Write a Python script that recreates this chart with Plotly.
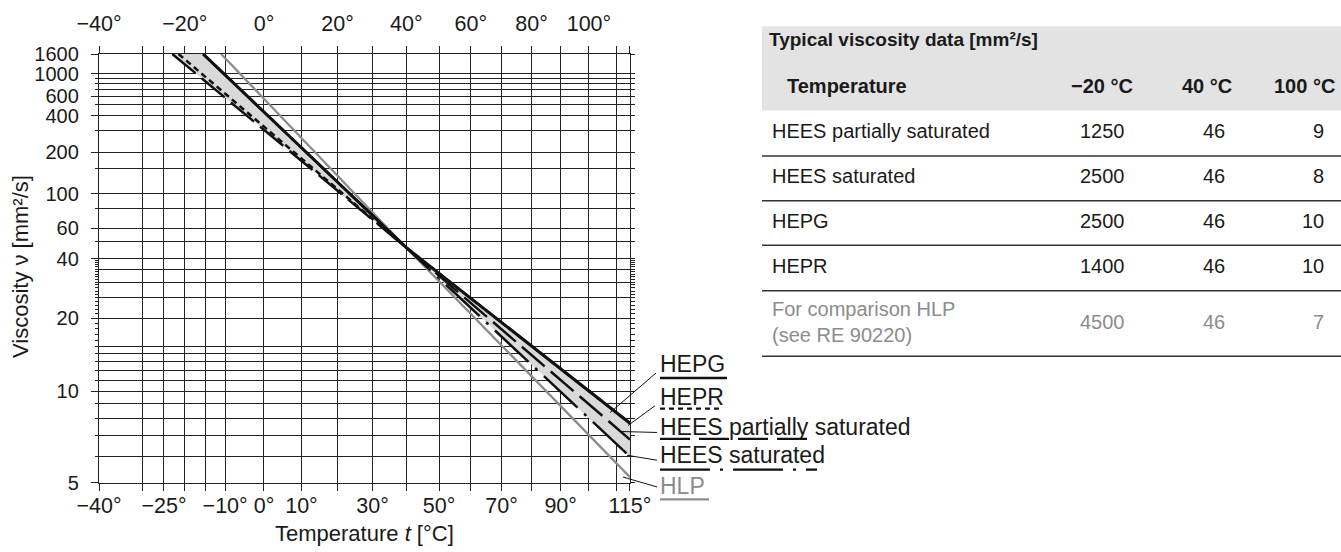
import math
import plotly.graph_objects as go

# ---------------- data ----------------
grid_temps = [-40, -30, -25, -20, -15, -10, 0, 10, 20, 30, 40, 50, 60, 70, 80, 90, 100, 110, 115]
bottom_labels = [-40, -25, -10, 0, 10, 30, 50, 70, 90, 115]
top_labels = [-40, -20, 0, 20, 40, 60, 80, 100]

visc_major = [1600, 1000, 600, 400, 200, 100, 60, 40, 20, 10, 5]
visc_minor_grid = [900, 800, 700, 500, 300, 150, 80, 50, 35, 30, 25, 15, 14, 13, 12, 11, 9, 8, 7, 6]
visc_small_ticks = [16, 17, 18, 19, 21, 22, 23, 24, 26, 27, 28, 29, 31, 32, 33, 34, 36, 37, 38, 39]

# series (temperature in degC, viscosity in mm2/s)
hees_p_t = [-23.0, 40, 115]
hees_p_v = [1600, 46, 6.8]
hees_s_t = [-15.5, 40, 115]
hees_s_v = [1600, 46, 6.0]
hepg_t = [-15.5, 40, 115]
hepg_v = [1600, 46, 7.7]
hepr_t = [-21.5, 40, 115]
hepr_v = [1600, 46, 7.7]
hlp_t = [-11.0, 40, 115]
hlp_v = [1600, 46, 5.2]

# table
table_labels = ["HEES partially saturated", "HEES saturated", "HEPG", "HEPR",
                "For comparison HLP<br>(see RE 90220)"]
table_m20 = [1250, 2500, 2500, 1400, 4500]
table_40 = [46, 46, 46, 46, 46]
table_100 = [9, 8, 10, 10, 7]
table_headers = ["Temperature", "−20 °C", "40 °C", "100 °C"]

# ---------------- helpers ----------------
FONT = "Liberation Sans, Arial, Helvetica, sans-serif"
GRID = "#222222"
TXT = "#1a1a1a"
GRAY = "#8c8c8c"

def kx(t):
    return t + 273.15          # log-temperature axis (Kelvin on log scale)

def vy(v):
    return math.log10(v + 0.7)  # double-log viscosity axis (log of this on log scale)

def deg(t):
    return ("−" if t < 0 else "") + f"{abs(t)}°"

L, T, W, H = 99, 50, 531, 433

def px(x):
    return (x - L) / W

def py(y):
    return (T + H - y) / H

xr = [math.log10(kx(-40)) - 1e-5, math.log10(kx(115)) + 1e-5]
yr = [math.log10(vy(5)) - 1e-5, math.log10(vy(1600)) + 1e-5]

fig = go.Figure()

# shaded band (envelope of the HE fluids)
band_t = [hees_p_t[0], hees_s_t[0], hees_s_t[1], hepg_t[2], hees_s_t[2], hees_s_t[1], hees_p_t[0]]
band_v = [hees_p_v[0], hees_s_v[0], hees_s_v[1], hepg_v[2], hees_s_v[2], hees_s_v[1], hees_p_v[0]]
fig.add_trace(go.Scatter(x=[kx(t) for t in band_t], y=[vy(v) for v in band_v],
                         mode="lines", fill="toself", fillcolor="#d9d9d9",
                         line=dict(width=0), hoverinfo="skip", showlegend=False))

series = [
    ("HLP", hlp_t, hlp_v, dict(color=GRAY, width=2.3)),
    ("HEES saturated", hees_s_t, hees_s_v, dict(color="#111111", width=2.5, dash="46px,9px,3px,9px")),
    ("HEES partially saturated", hees_p_t, hees_p_v, dict(color="#111111", width=2.5, dash="30px,8px")),
    ("HEPG", hepg_t, hepg_v, dict(color="#111111", width=3)),
    ("HEPR", hepr_t, hepr_v, dict(color="#111111", width=2.5, dash="6px,4px")),
]
for name, ts, vs, ln in series:
    fig.add_trace(go.Scatter(x=[kx(t) for t in ts], y=[vy(v) for v in vs], mode="lines",
                             line=ln, name=name, showlegend=False))

# dummy traces so the extra axes are drawn
fig.add_trace(go.Scatter(x=[kx(0)], y=[vy(100)], xaxis="x2", yaxis="y2", mode="markers",
                         marker=dict(opacity=0), hoverinfo="skip", showlegend=False))
fig.add_trace(go.Scatter(x=[kx(0)], y=[vy(100)], xaxis="x", yaxis="y3", mode="markers",
                         marker=dict(opacity=0), hoverinfo="skip", showlegend=False))

xtickfont = dict(family=FONT, size=21.5, color=TXT)
ytickfont = dict(family=FONT, size=20, color=TXT)

fig.update_layout(
    width=1341, height=552,
    margin=dict(l=L, r=1341 - L - W, t=T, b=552 - T - H),
    paper_bgcolor="white", plot_bgcolor="white",
    font=dict(family=FONT, color=TXT),
    xaxis=dict(type="log", range=xr, tickmode="array",
               tickvals=[kx(t) for t in grid_temps],
               ticktext=[deg(t) if t in bottom_labels else "" for t in grid_temps],
               ticks="outside", ticklen=7, tickwidth=1.4, tickcolor=GRID,
               showgrid=True, gridcolor=GRID, gridwidth=1.4, zeroline=False,
               showline=True, linecolor=GRID, linewidth=1.4, mirror=True,
               tickfont=xtickfont, ticklabelstandoff=-4),
    xaxis2=dict(type="log", range=xr, overlaying="x", side="top", tickmode="array",
                tickvals=[kx(t) for t in grid_temps],
                ticktext=[deg(t) if t in top_labels else "" for t in grid_temps],
                ticks="outside", ticklen=7, tickwidth=1.4, tickcolor=GRID,
                showgrid=False, zeroline=False, tickfont=xtickfont, ticklabelstandoff=6),
    yaxis=dict(type="log", range=yr, tickmode="array",
               tickvals=[vy(v) for v in visc_major],
               ticktext=[str(v) for v in visc_major],
               ticks="outside", ticklen=7, tickwidth=1.4, tickcolor=GRID,
               showgrid=True, gridcolor=GRID, gridwidth=1.4, zeroline=False,
               showline=True, linecolor=GRID, linewidth=1.4, mirror=True,
               tickfont=ytickfont, ticklabelstandoff=8,
               minor=dict(tickmode="array", tickvals=[vy(v) for v in visc_minor_grid],
                          ticks="outside", ticklen=3, tickwidth=1.4, tickcolor=GRID,
                          showgrid=True, gridcolor=GRID, gridwidth=1.4)),
    yaxis2=dict(type="log", range=yr, overlaying="y", side="left", tickmode="array",
                tickvals=[vy(v) for v in visc_small_ticks],
                ticks="outside", ticklen=3, tickwidth=1.1, tickcolor=GRID,
                showticklabels=False, showgrid=False, zeroline=False),
    yaxis3=dict(type="log", range=yr, overlaying="y", side="right", tickmode="array",
                tickvals=[vy(v) for v in visc_major + visc_minor_grid + visc_small_ticks],
                ticks="outside", ticklen=4, tickwidth=1.1, tickcolor=GRID,
                showticklabels=False, showgrid=False, zeroline=False),
)

ann = []
shapes = []

# axis titles
ann.append(dict(x=px(20), y=py(265), xref="paper", yref="paper", text="Viscosity ν [mm²/s]",
                textangle=-90, showarrow=False, xanchor="center", yanchor="middle",
                font=dict(family=FONT, size=22, color=TXT)))
ann.append(dict(x=px(364), y=py(534), xref="paper", yref="paper", text="Temperature <i>t</i> [°C]",
                showarrow=False, xanchor="center", yanchor="middle",
                font=dict(family=FONT, size=22, color=TXT)))

# series labels with styled underlines and leader lines
labels = [
    ("HEPG", 363, 377, 727, dict(color="#111111", width=2.5), TXT, (656, 372, 610, 412)),
    ("HEPR", 396.5, 408, 720, dict(color="#111111", width=2.2, dash="5px,4px"), TXT, (655, 405, 628, 425)),
    ("HEES partially saturated", 426.5, 438.5, 812, dict(color="#111111", width=2.2, dash="30px,9px"), TXT, (657, 432, 620, 431)),
    ("HEES saturated", 455, 469.5, 817, dict(color="#111111", width=2.2, dash="50px,10px,3px,10px"), TXT, (657, 460, 627, 455)),
    ("HLP", 486, 499.5, 709, dict(color=GRAY, width=2.2), GRAY, (657, 487, 623, 477)),
]
for text, yc, yu, xend, uline, col, lead in labels:
    ann.append(dict(x=px(658), y=py(yc), xref="paper", yref="paper", text=text, showarrow=False,
                    xanchor="left", yanchor="middle", font=dict(family=FONT, size=23, color=col)))
    shapes.append(dict(type="line", xref="paper", yref="paper", x0=px(660), x1=px(xend),
                       y0=py(yu), y1=py(yu), line=uline))
    shapes.append(dict(type="line", xref="paper", yref="paper", x0=px(lead[0]), y0=py(lead[1]),
                       x1=px(lead[2]), y1=py(lead[3]), line=dict(color="#111111", width=1)))

# table
TX0, TX1 = 762, 1341
shapes.append(dict(type="rect", xref="paper", yref="paper", x0=px(TX0), x1=px(TX1),
                   y0=py(22), y1=py(107), fillcolor="#e3e3e3", line=dict(width=0), layer="below"))
ann.append(dict(x=px(767), y=py(35), xref="paper", yref="paper",
                text="<b>Typical viscosity data [mm²/s]</b>", showarrow=False,
                xanchor="left", yanchor="middle", font=dict(family=FONT, size=19, color=TXT)))
hdr_x = [785, 1135, 1234, 1337]
for i, h in enumerate(table_headers):
    ann.append(dict(x=px(hdr_x[i]), y=py(82), xref="paper", yref="paper", text=f"<b>{h}</b>",
                    showarrow=False, xanchor="left" if i == 0 else "right", yanchor="middle",
                    font=dict(family=FONT, size=20, color=TXT)))

row_bounds = [107, 153, 198, 243, 289, 355]
val_x = [1127, 1227, 1326]
for i, lab in enumerate(table_labels):
    yc = (row_bounds[i] + row_bounds[i + 1]) / 2 - 2
    col = GRAY if i == len(table_labels) - 1 else TXT
    ann.append(dict(x=px(770), y=py(yc), xref="paper", yref="paper", text=lab, showarrow=False,
                    xanchor="left", yanchor="middle", align="left",
                    font=dict(family=FONT, size=20, color=col)))
    for j, val in enumerate([table_m20[i], table_40[i], table_100[i]]):
        ann.append(dict(x=px(val_x[j]), y=py(yc), xref="paper", yref="paper", text=str(val),
                        showarrow=False, xanchor="right", yanchor="middle",
                        font=dict(family=FONT, size=20, color=col)))
    shapes.append(dict(type="line", xref="paper", yref="paper", x0=px(TX0), x1=px(TX1),
                       y0=py(row_bounds[i + 1]), y1=py(row_bounds[i + 1]),
                       line=dict(color="#333333", width=1.5)))

fig.update_layout(annotations=ann, shapes=shapes)
fig.write_html("out.html", config={"displayModeBar": False},
               post_script="document.body.style.margin='0';document.body.style.overflow='hidden';")
